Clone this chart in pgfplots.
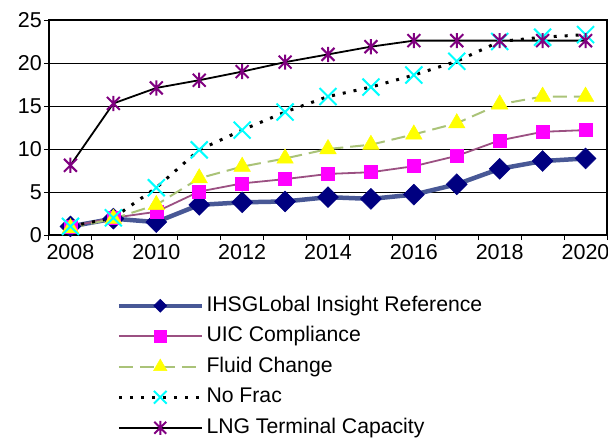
\documentclass[border=0pt]{standalone}
\usepackage{fontspec}
\setmainfont{Liberation Sans}
\usepackage{pgfplots}
\pgfplotsset{compat=1.18}
\definecolor{ihsline}{RGB}{72,88,150}
\definecolor{ihsmark}{RGB}{0,0,128}
\definecolor{uicline}{RGB}{155,80,130}
\definecolor{uicmark}{RGB}{255,0,255}
\definecolor{fluidline}{RGB}{170,195,120}
\definecolor{fluidmark}{RGB}{255,255,0}
\definecolor{fracmark}{RGB}{0,255,255}
\definecolor{lngmark}{RGB}{128,0,128}
\pgfdeclareplotmark{xstar}{%
 \pgfpathmoveto{\pgfqpoint{0pt}{\pgfplotmarksize}}\pgfpathlineto{\pgfqpoint{0pt}{-\pgfplotmarksize}}%
 \pgfpathmoveto{\pgfqpoint{-.85\pgfplotmarksize}{-.85\pgfplotmarksize}}\pgfpathlineto{\pgfqpoint{.85\pgfplotmarksize}{.85\pgfplotmarksize}}%
 \pgfpathmoveto{\pgfqpoint{-.85\pgfplotmarksize}{.85\pgfplotmarksize}}\pgfpathlineto{\pgfqpoint{.85\pgfplotmarksize}{-.85\pgfplotmarksize}}%
 \pgfusepathqstroke}
\begin{document}
\begin{tikzpicture}
\path[use as bounding box] (-49pt,-210pt) rectangle (559pt,235pt);
\begin{axis}[
 at={(0pt,0pt)}, anchor=south west,
 scale only axis, width=558pt, height=215pt,
 xmin=-0.5, xmax=12.5, ymin=0, ymax=25,
 ytick={0,5,...,25},
 xtick={-0.5,0.5,...,12.5}, xticklabels={},
 extra x ticks={0,2,4,6,8,10,12},
 extra x tick labels={2008,2010,2012,2014,2016,2018,2020},
 extra x tick style={major tick length=0pt, grid=none, xticklabel style={yshift=-6pt}},
 tick align=outside, major tick length=5pt, tick pos=left,
 ymajorgrids, grid style={black, line width=1pt},
 axis line style={black, line width=1.5pt},
 tick style={black, line width=1pt},
 yticklabel style={inner sep=2pt},
 ticklabel style={font=\fontsize{21.5}{25}\selectfont},
 /pgf/number format/assume math mode=true,
 clip=false,
 legend cell align=left,
 legend style={at={(axis description cs:0.1219,-0.2814)}, anchor=north west,
   draw=none, fill=none, inner sep=0pt, outer sep=0pt, row sep=10pt, column sep=3pt,
   nodes={inner sep=0pt, text height=15.5pt, text depth=5pt, font=\fontsize{21.2}{25}\selectfont}},
 legend image code/.code={\draw[mark repeat=2,mark phase=2] plot coordinates {(0pt,0pt)(41.5pt,0pt)(83pt,0pt)};},
]
\addplot[ihsline, line width=4.5pt, mark=square*, mark size=7.4pt,
  mark options={rotate=45, fill=ihsmark, draw=ihsmark, line width=0.5pt},
  legend image post style={mark size=4.6pt, line width=3.5pt}]
 coordinates {(0,1.0)(1,1.9)(2,1.5)(3,3.5)(4,3.8)(5,3.9)(6,4.4)(7,4.2)(8,4.7)(9,5.9)(10,7.7)(11,8.6)(12,8.9)};
\addlegendentry{IHSGLobal Insight Reference}
\addplot[uicline, line width=1.8pt, mark=square*, mark size=6.5pt,
  mark options={fill=uicmark, draw=uicmark, line width=0.5pt},
  legend image post style={mark size=6pt}]
 coordinates {(0,1.0)(1,2.0)(2,2.7)(3,5.05)(4,6.0)(5,6.5)(6,7.1)(7,7.3)(8,8.0)(9,9.2)(10,11.0)(11,12.0)(12,12.2)};
\addlegendentry{UIC Compliance}
\addplot[fluidline, line width=2pt, dash pattern=on 14pt off 7pt, mark=triangle*, mark size=9.5pt,
  mark options={solid, fill=fluidmark, draw=fluidmark, line width=0.5pt},
  legend image post style={mark size=7.7pt}]
 coordinates {(0,0.8)(1,1.9)(2,3.5)(3,6.6)(4,7.95)(5,8.9)(6,10.0)(7,10.5)(8,11.7)(9,13.0)(10,15.2)(11,16.1)(12,16.1)};
\addlegendentry{Fluid Change}
\addplot[black, line width=3pt, dash pattern=on 3pt off 8pt, mark=x, mark size=12pt,
  mark options={solid, draw=fracmark, line width=2pt},
  legend image post style={mark size=9pt}]
 coordinates {(0,1.0)(1,2.0)(2,5.5)(3,9.9)(4,12.2)(5,14.3)(6,16.1)(7,17.2)(8,18.6)(9,20.2)(10,22.5)(11,23.0)(12,23.3)};
\addlegendentry{No Frac}
\addplot[black, line width=1.8pt, mark=xstar, mark size=7.6pt,
  mark options={solid, draw=lngmark, line width=2pt},
  legend image post style={mark size=7pt}]
 coordinates {(0,8.1)(1,15.3)(2,17.1)(3,18.0)(4,19.0)(5,20.1)(6,21.0)(7,21.9)(8,22.6)(9,22.6)(10,22.6)(11,22.6)(12,22.6)};
\addlegendentry{LNG Terminal Capacity}
\end{axis}
\end{tikzpicture}
\end{document}
